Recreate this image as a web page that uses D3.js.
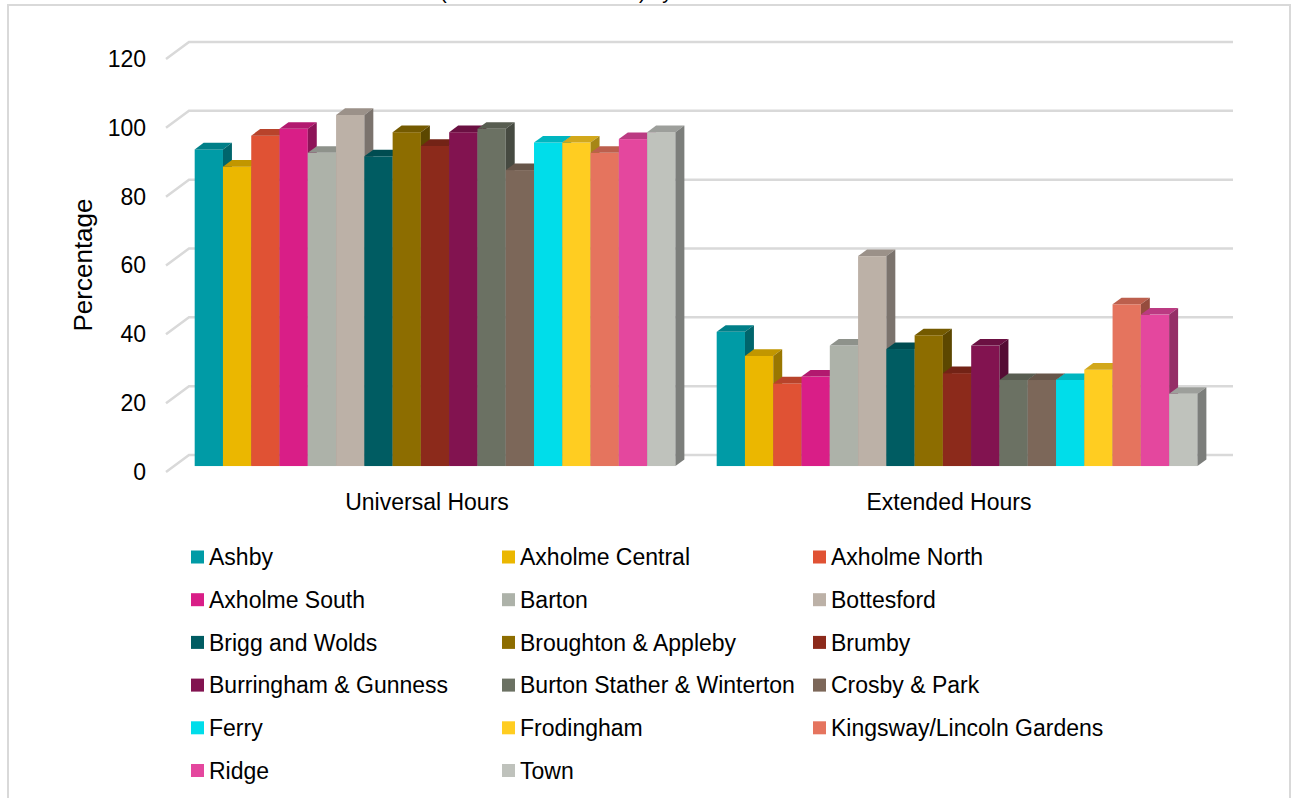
<!DOCTYPE html>
<html>
<head>
<meta charset="utf-8">
<script src="https://cdnjs.cloudflare.com/ajax/libs/d3/7.8.5/d3.min.js"></script>
<style>
  body { margin: 0; background: #fff; }
  text { font-family: "Liberation Sans", Arial, sans-serif; fill: #000; }
</style>
</head>
<body>
<div id="container"></div>
<script>
// categories and series
var hours = ["Universal Hours", "Extended Hours"];
var areas = ["Ashby", "Axholme Central", "Axholme North", "Axholme South", "Barton", "Bottesford",
             "Brigg and Wolds", "Broughton & Appleby", "Brumby", "Burringham & Gunness",
             "Burton Stather & Winterton", "Crosby & Park", "Ferry", "Frodingham",
             "Kingsway/Lincoln Gardens", "Ridge", "Town"];
var universal = [92, 87, 96, 98, 91, 102, 90, 97, 93, 97, 98, 86, 94, 94, 91, 95, 97];
var extended  = [39, 32, 24, 26, 35, 61, 34, 38, 27, 35, 25, 25, 25, 28, 47, 44, 21];
var colours = ["#009BA6", "#EBB700", "#E05234", "#D91E87", "#ADB2A9", "#BCB1A7",
               "#005C62", "#8D6D00", "#8C2A1B", "#821350", "#6B7163", "#7C6759",
               "#00DDEA", "#FFCD21", "#E5745E", "#E4479E", "#BFC2BC"];
var yTicks = [0, 20, 40, 60, 80, 100, 120];

// width and height
var width = 1296;
var height = 798;

// 3d depth of the floor and where the bars sit in it
var depthX = 23, depthY = 17;
var barFront = 0.35, barBack = 0.74;

var svg = d3.select("#container")
            .append("svg")
            .attr("width", width)
            .attr("height", height);

// chart border
svg.append("rect")
   .attr("x", 8)
   .attr("y", 5)
   .attr("width", 1282)
   .attr("height", 820)
   .attr("fill", "none")
   .attr("stroke", "#D9D9D9")
   .attr("stroke-width", 2);

// title, mostly cut off above the frame
var title = svg.append("text")
   .attr("y", -1)
   .style("font-size", "20px")
   .text("Childcare Attendance (Universal & Extended) by Area");
var parenX = title.node().getStartPositionOfChar(title.text().indexOf("(")).x;
title.attr("x", 440 - parenX);

// scales
var y = d3.scaleLinear()
          .domain([0, 120])
          .range([472, 59]);

var x0 = d3.scaleBand()
           .domain(hours)
           .range([166, 1210]);

var x1 = d3.scaleBand()
           .domain(areas)
           .range([0, x0.bandwidth()])
           .paddingOuter(0.73);

var colour = d3.scaleOrdinal()
               .domain(areas)
               .range(colours);

// back wall gridlines and the slanted floor ticks
svg.selectAll(".grid")
   .data(yTicks)
   .enter().append("path")
   .attr("class", "grid")
   .attr("d", function(d) {
     return "M166," + y(d) + "L" + (166 + depthX) + "," + (y(d) - depthY) +
            "L" + (1210 + depthX) + "," + (y(d) - depthY);
   })
   .attr("fill", "none")
   .attr("stroke", "#D9D9D9")
   .attr("stroke-width", 2.5);

// y axis labels
var yAxis = svg.append("g")
   .attr("transform", "translate(146,0)")
   .call(d3.axisLeft(y).tickValues(yTicks).tickSize(0).tickPadding(0));
yAxis.select(".domain").remove();
yAxis.selectAll("text")
   .style("font-size", "23px")
   .attr("font-family", null);

// y axis title
svg.append("text")
   .attr("transform", "rotate(-90)")
   .attr("x", -265)
   .attr("y", 92)
   .style("text-anchor", "middle")
   .style("font-size", "26px")
   .text("Percentage");

// category labels
var xAxis = svg.append("g")
   .attr("transform", "translate(0,487)")
   .call(d3.axisBottom(x0).tickSize(0).tickPadding(0));
xAxis.select(".domain").remove();
xAxis.selectAll("text")
   .attr("dy", "0.75em")
   .attr("y", 6)
   .style("font-size", "23px")
   .attr("font-family", null);

// bars, drawn left to right so each hides the side of the one before
var series = { "Universal Hours": universal, "Extended Hours": extended };
var fx = depthX * barFront, fy = depthY * barFront;
var bx = depthX * (barBack - barFront), by = depthY * (barBack - barFront);

hours.forEach(function(h) {
  var g = svg.append("g");
  areas.forEach(function(a, i) {
    var v = series[h][i];
    var left = x0(h) + x1(a) + fx;
    var right = left + x1.bandwidth();
    var top = y(v) - fy;
    var base = y(0) - fy;
    var c = colour(a);

    g.append("rect")
     .attr("x", left)
     .attr("y", top)
     .attr("width", x1.bandwidth())
     .attr("height", base - top)
     .attr("fill", c);

    g.append("path")
     .attr("d", "M" + left + "," + top + "L" + (left + bx) + "," + (top - by) +
                "L" + (right + bx) + "," + (top - by) + "L" + right + "," + top + "Z")
     .attr("fill", d3.color(c).darker(0.55));

    g.append("path")
     .attr("d", "M" + right + "," + top + "L" + (right + bx) + "," + (top - by) +
                "L" + (right + bx) + "," + (base - by) + "L" + right + "," + base + "Z")
     .attr("fill", d3.color(c).darker(1.2));
  });
});

// legend
var legendCols = [191, 502, 813];
var legend = svg.selectAll(".legend")
   .data(areas)
   .enter().append("g")
   .attr("class", "legend")
   .attr("transform", function(d, i) {
     return "translate(" + legendCols[i % 3] + "," + (557 + Math.floor(i / 3) * 42.7) + ")";
   });

legend.append("rect")
   .attr("x", 0)
   .attr("y", -6.5)
   .attr("width", 13)
   .attr("height", 13)
   .attr("fill", function(d) { return colour(d); });

legend.append("text")
   .attr("x", 18)
   .attr("dy", "0.36em")
   .style("font-size", "23px")
   .text(function(d) { return d; });
</script>
</body>
</html>
